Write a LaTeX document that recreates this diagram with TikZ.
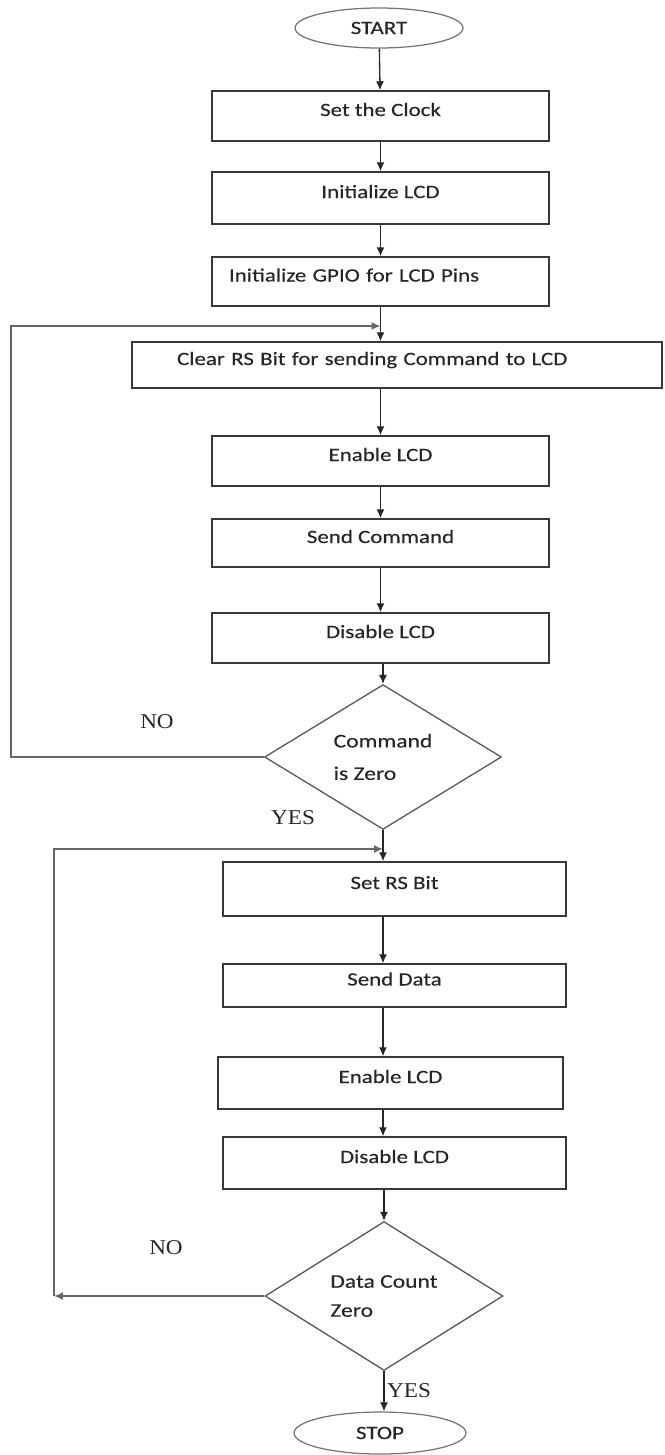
\documentclass[tikz,border=0pt]{standalone}
\usepackage{fontspec}
\setmainfont{Carlito}[FakeStretch=1.22, FakeBold=0.3]
\newfontfamily\answerfont{Liberation Serif}[FakeStretch=1.1]
\usetikzlibrary{arrows.meta,shapes.geometric}
\tikzset{
	stepbox/.style={draw=black!78, line width=0.85pt, minimum width=6.74cm, inner sep=0pt,
		text height=0.3cm, text depth=0.3cm, text=black!85, font=\fontsize{10.7}{12}\selectfont},
	terminal/.style={ellipse, draw=black!55, line width=0.7pt, inner sep=0pt, text=black!85,
		font=\fontsize{10.7}{12}\selectfont},
	decision/.style={diamond, draw=black!65, line width=0.75pt, inner sep=0pt, align=left,
		text=black!85, font=\fontsize{11}{18.5}\selectfont},
	flow/.style={draw=black!85, line width=0.75pt, -{Latex[length=1.8mm,width=1.6mm]}},
	back/.style={draw=black!60, line width=0.85pt},
	tip/.style={-{Latex[length=1.8mm,width=1.6mm]}},
	answer/.style={text=black!85, font=\answerfont\fontsize{12}{14}\selectfont}
}

\begin{document}
\begin{tikzpicture}[x=0.02cm, y=-0.02cm]
	%%%%% START %%%%%
	\useasboundingbox (0,0) rectangle (665,1455);
	
	\node[terminal, minimum width=3.36cm, minimum height=0.8cm] (start) at (379,28) {START};
	\node[stepbox, minimum height=1cm] (clock) at (380.5,116) {Set the Clock};
	\node[stepbox, minimum height=1.04cm] (initlcd) at (380.5,198) {Initialize LCD};
	\node[stepbox, minimum height=0.98cm, inner xsep=0.34cm, text width=6.06cm, align=left] (gpio) at (380.5,281.5) {Initialize GPIO for LCD Pins};
	\node[stepbox, minimum width=10.6cm, minimum height=0.92cm, inner xsep=0.9cm, text width=8.8cm, align=left] (clrrs) at (397,365) {Clear RS Bit for sending Command to LCD};
	\node[stepbox, minimum height=1cm] (enlcd) at (380.5,461) {Enable LCD};
	\node[stepbox, minimum height=0.96cm] (sendcmd) at (380.5,543) {Send Command};
	\node[stepbox, minimum height=1cm] (dislcd) at (380.5,638) {Disable LCD};
	\node[decision, minimum width=4.74cm, minimum height=2.6cm] (cmdzero) at (383,757) {Command\\is Zero};
	
	\node[stepbox, minimum width=6.86cm, minimum height=1.08cm] (setrs) at (394.5,889) {Set RS Bit};
	\node[stepbox, minimum width=6.86cm, minimum height=0.86cm] (senddata) at (394.5,985.5) {Send Data};
	\node[stepbox, minimum width=6.9cm, minimum height=1.04cm] (enlcdb) at (390.5,1083) {Enable LCD};
	\node[stepbox, minimum width=6.86cm, minimum height=1.04cm] (dislcdb) at (394.5,1163) {Disable LCD};
	\node[decision, minimum width=4.76cm, minimum height=2.64cm, font=\fontsize{11}{16.5}\selectfont] (datazero) at (384,1296) {Data Count\\Zero};
	\node[terminal, minimum width=3.44cm, minimum height=0.84cm] (stop) at (380,1433) {STOP};
	
	\node[answer] (nocmd) at (157,722) {NO};
	\node[answer] (yescmd) at (293,818) {YES};
	\node[answer] (nodata) at (166,1248) {NO};
	\node[answer] (yesdata) at (409,1391) {YES};
	
	% main flow
	\draw[flow] (start) -- (clock);
	\draw[flow] (clock) -- (initlcd);
	\draw[flow] (initlcd) -- (gpio);
	\draw[flow] (gpio.south) -- (clrrs.north -| gpio.south);
	\draw[flow] (clrrs.south -| enlcd.north) -- (enlcd);
	\draw[flow] (enlcd) -- (sendcmd);
	\draw[flow] (sendcmd) -- (dislcd);
	\draw[flow] (dislcd.south -| cmdzero.north) -- (cmdzero);
	\draw[flow] (cmdzero.south) -- (setrs.north -| cmdzero.south);
	\draw[flow] (setrs.south -| cmdzero.south) -- (senddata.north -| cmdzero.south);
	\draw[flow] (senddata.south -| cmdzero.south) -- (enlcdb.north -| cmdzero.south);
	\draw[flow] (enlcdb.south -| cmdzero.south) -- (dislcdb.north -| cmdzero.south);
	\draw[flow] (dislcdb.south -| datazero.north) -- (datazero);
	\draw[flow] (datazero.south) -- (stop.north -| datazero.south);
	
	% loops back
	\coordinate (j1) at (380.5,326);
	\coordinate (l1) at (11,326);
	\draw[back, tip] (cmdzero.west) -| (l1) -- (j1);
	
	\coordinate (j2) at (383,849);
	\coordinate (c2) at (54,1296);
	\draw[back, tip] (datazero.west) -- (c2);
	\draw[back, tip] (c2) |- (j2);
	
	%%%%% END %%%%%
\end{tikzpicture}
\end{document}
